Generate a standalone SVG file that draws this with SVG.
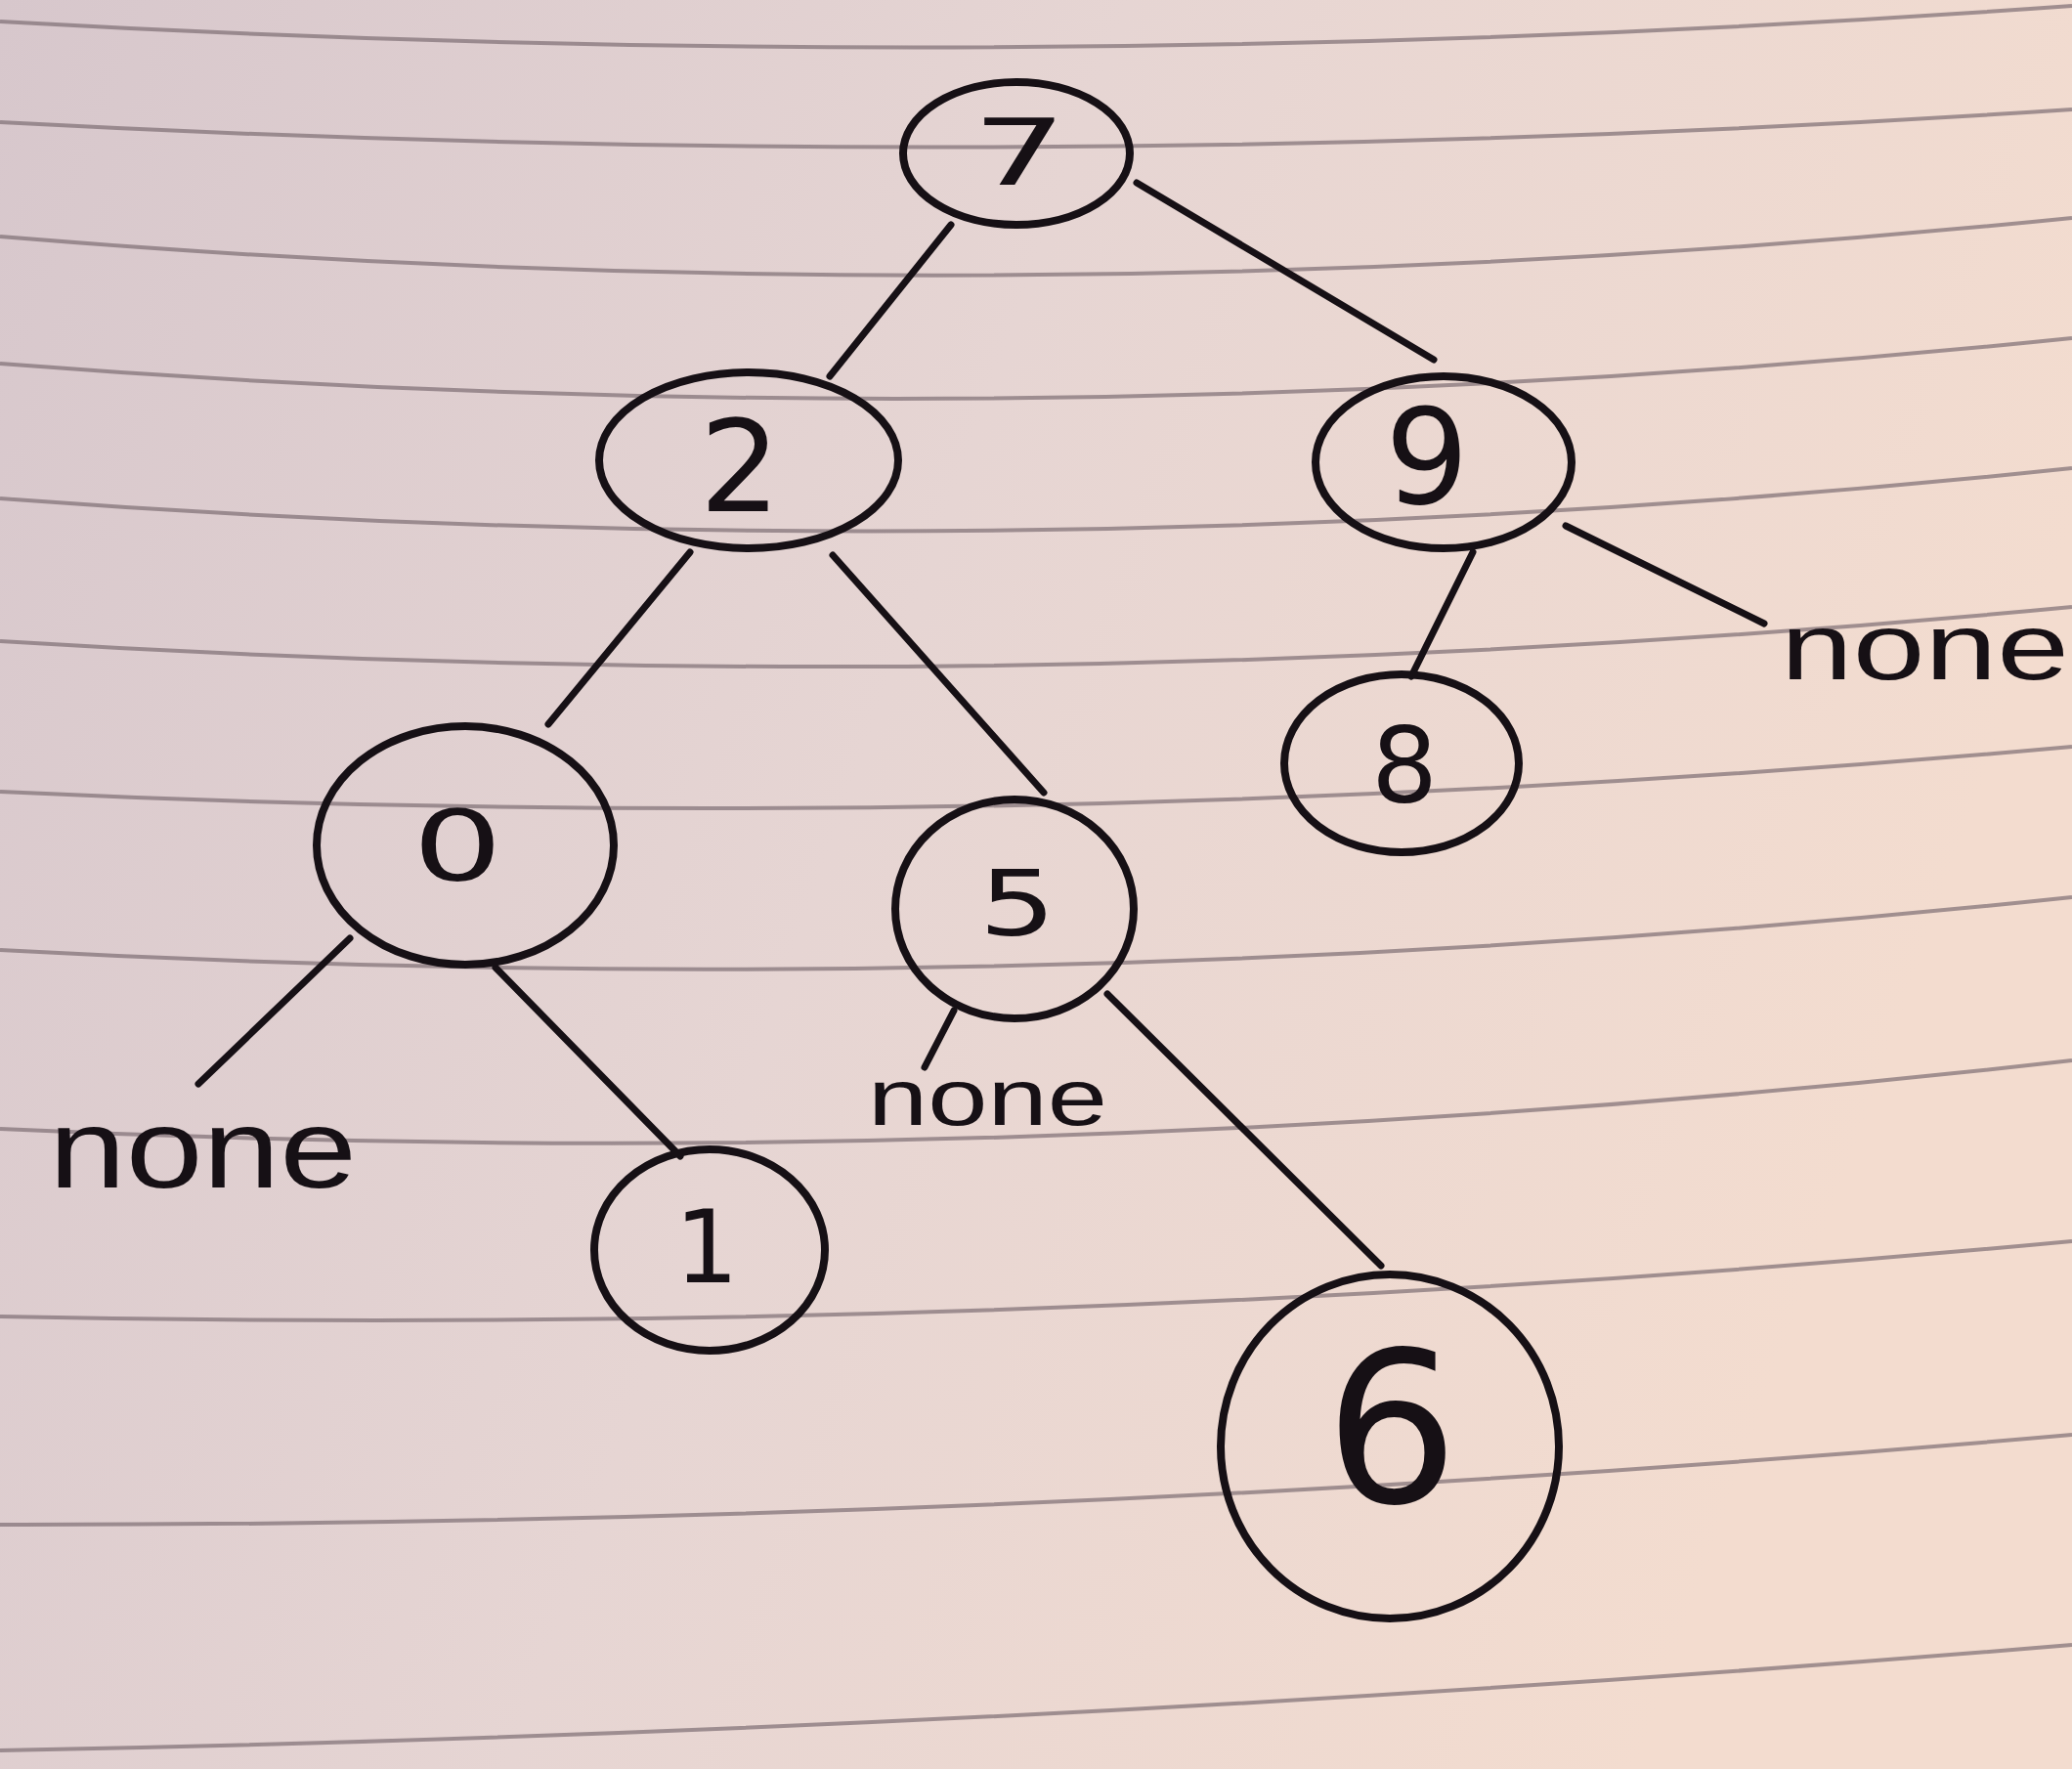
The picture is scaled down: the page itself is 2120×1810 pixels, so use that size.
<svg xmlns="http://www.w3.org/2000/svg" width="2120" height="1810" viewBox="0 0 2120 1810">
<defs>
<linearGradient id="paper" x1="0" y1="0" x2="1" y2="0.3">
<stop offset="0" stop-color="#d7c7cc"/>
<stop offset="0.5" stop-color="#e6d5d3"/>
<stop offset="1" stop-color="#f3dccf"/>
</linearGradient>
<style>
.rule{fill:none;stroke:#7d6d74;stroke-width:4;stroke-opacity:0.7}
.node ellipse{fill:none;stroke:#161015;stroke-width:8}
.node text{font-family:"DejaVu Sans","Liberation Sans",sans-serif;fill:#161015;text-anchor:middle}
.edge{stroke:#161015;stroke-width:7;stroke-linecap:round;fill:none}
.lbl{font-family:"Liberation Sans","DejaVu Sans",sans-serif;fill:#161015}
</style>
</defs>
<rect width="2120" height="1810" fill="url(#paper)"/>
<g id="paper-lines">
<path class="rule" d="M0 22 Q1060 82 2120 6"/>
<path class="rule" d="M0 125 Q1060 182 2120 112"/>
<path class="rule" d="M0 242 Q1060 330 2120 223"/>
<path class="rule" d="M0 372 Q1060 455 2120 346"/>
<path class="rule" d="M0 510 Q1060 590 2120 479"/>
<path class="rule" d="M0 656 Q1060 722 2120 621"/>
<path class="rule" d="M0 810 Q1060 860 2120 764"/>
<path class="rule" d="M0 972 Q1060 1030 2120 918"/>
<path class="rule" d="M0 1155 Q1060 1205 2120 1085"/>
<path class="rule" d="M0 1347 Q1060 1369 2120 1270"/>
<path class="rule" d="M0 1560 Q1060 1561 2120 1468"/>
<path class="rule" d="M0 1791 Q1060 1771 2120 1683"/>
</g>
<g id="connectors">
<line class="edge" x1="973" y1="230" x2="849" y2="385"/>
<line class="edge" x1="1163" y1="187" x2="1467" y2="368"/>
<line class="edge" x1="706" y1="565" x2="561" y2="741"/>
<line class="edge" x1="852" y1="568" x2="1068" y2="811"/>
<line class="edge" x1="1507" y1="565" x2="1444" y2="692"/>
<line class="edge" x1="1602" y1="538" x2="1805" y2="638"/>
<line class="edge" x1="358" y1="960" x2="203" y2="1109"/>
<line class="edge" x1="507" y1="990" x2="696" y2="1183"/>
<line class="edge" x1="976" y1="1034" x2="946" y2="1092"/>
<line class="edge" x1="1133" y1="1017" x2="1413" y2="1295"/>
</g>
<g id="node-7" class="node"><ellipse cx="1040" cy="157" rx="116" ry="73"/><text transform="translate(1043 189) scale(1.6 1)" font-size="95">7</text></g>
<g id="node-2" class="node"><ellipse cx="766" cy="471" rx="153" ry="90"/><text x="757" y="523" font-size="130">2</text></g>
<g id="node-9" class="node"><ellipse cx="1477" cy="473" rx="131" ry="88"/><text x="1460" y="515" font-size="135">9</text></g>
<g id="node-0" class="node"><ellipse cx="476" cy="865" rx="152" ry="122"/><text transform="translate(468 901) scale(1.45 1)" font-size="100">0</text></g>
<g id="node-5" class="node"><ellipse cx="1038" cy="930" rx="122" ry="112"/><text transform="translate(1041 957) scale(1.35 1)" font-size="92">5</text></g>
<g id="node-8" class="node"><ellipse cx="1434" cy="781" rx="120" ry="91"/><text x="1437" y="820" font-size="107">8</text></g>
<g id="node-1" class="node"><ellipse cx="726" cy="1279" rx="118" ry="103"/><text x="723" y="1312" font-size="103">1</text></g>
<g id="node-6" class="node"><ellipse cx="1422" cy="1480" rx="173" ry="176"/><text x="1424" y="1537" font-size="215">6</text></g>
<g id="labels">
<text class="lbl" x="1822" y="695" font-size="96" textLength="295" lengthAdjust="spacingAndGlyphs">none</text>
<text class="lbl" x="50" y="1215" font-size="115" textLength="315" lengthAdjust="spacingAndGlyphs">none</text>
<text class="lbl" x="888" y="1151" font-size="81" textLength="245" lengthAdjust="spacingAndGlyphs">none</text>
</g>
</svg>
